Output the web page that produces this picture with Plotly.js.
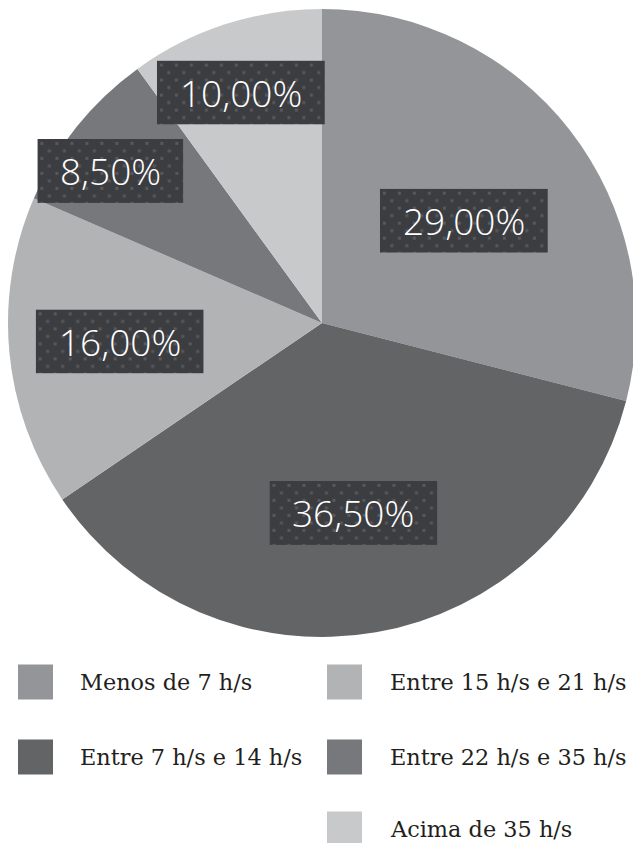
<!DOCTYPE html>
<html>
<head>
<meta charset="utf-8">
<script src="https://cdn.plot.ly/plotly-3.0.1.min.js"></script>
<style>
html,body{margin:0;padding:0;overflow:hidden;background:#fff;}
#chart{width:640px;height:843px;}
</style>
</head>
<body>
<div id="chart"></div>
<script>
// ---- data ----
var categories = ["Menos de 7 h/s", "Entre 7 h/s e 14 h/s", "Entre 15 h/s e 21 h/s", "Entre 22 h/s e 35 h/s", "Acima de 35 h/s"];
var values = [29.0, 36.5, 16.0, 8.5, 10.0];
var percentLabels = ["29,00%", "36,50%", "16,00%", "8,50%", "10,00%"];

// ---- style ----
var colors = ["#939598", "#636466", "#b1b3b5", "#77787b", "#c8c9cb"];
var W = 640, H = 843;
var pieLeft = 8, pieRight = 636, pieTop = 9, pieBottom = 637;
var cx = (pieLeft + pieRight) / 2, cy = (pieTop + pieBottom) / 2, R = (pieRight - pieLeft) / 2;
// label placement: radial fraction and angular nudge (deg)
var labelRadius = [0.557, 0.613, 0.647, 0.83, 0.778];
var labelNudge = [2, 0.5, 0.2, -3, -1.4];

var total = values.reduce(function(a,b){return a+b;}, 0);
var annotations = [], images = [], shapes = [];

function boxSvg(w, h) {
  var s = '<svg xmlns="http://www.w3.org/2000/svg" width="' + w + '" height="' + h + '" viewBox="0 0 ' + w + ' ' + h + '">' +
    '<defs><pattern id="p" x="3" y="3" width="15" height="15" patternUnits="userSpaceOnUse">' +
    '<rect width="15" height="15" fill="#3c3d41"/>' +
    '<rect x="0" y="0" width="3" height="3" fill="#57585c"/>' +
    '<rect x="7.5" y="7.5" width="3" height="3" fill="#57585c"/>' +
    '</pattern></defs><rect width="' + w + '" height="' + h + '" fill="url(#p)"/></svg>';
  return 'data:image/svg+xml;charset=utf-8,' + encodeURIComponent(s);
}

var cum = 0;
for (var i = 0; i < values.length; i++) {
  var mid = (cum + values[i] / 2) / total * 360 + labelNudge[i];
  cum += values[i];
  var rad = mid * Math.PI / 180;
  var px = cx + labelRadius[i] * R * Math.sin(rad);
  var py = cy - labelRadius[i] * R * Math.cos(rad);
  var bw = percentLabels[i].length * 22 + 36, bh = 64;
  images.push({
    source: boxSvg(bw, bh), xref: "paper", yref: "paper",
    x: (px - bw / 2) / W, y: 1 - (py - bh / 2) / H,
    sizex: bw / W, sizey: bh / H, sizing: "stretch",
    xanchor: "left", yanchor: "top", layer: "above"
  });
  annotations.push({
    text: percentLabels[i], xref: "paper", yref: "paper",
    x: px / W, y: 1 - py / H, xanchor: "center", yanchor: "middle",
    showarrow: false, font: {family: "Open Sans, sans-serif", size: 37, weight: 300, color: "#ffffff"}
  });
}

// ---- legend (custom, two columns) ----
var colSquareX = [18, 327], colTextX = [78, 388], rowY = [682, 757, 829], sq = 35;
for (var j = 0; j < categories.length; j++) {
  var col = j < 2 ? 0 : 1;
  var row = j < 2 ? j : j - 2;
  var yc = rowY[row];
  shapes.push({
    type: "rect", xref: "paper", yref: "paper",
    x0: colSquareX[col] / W, x1: (colSquareX[col] + sq) / W,
    y0: 1 - (yc + sq / 2) / H, y1: 1 - (yc - sq / 2) / H,
    fillcolor: colors[j], line: {width: 0}
  });
  annotations.push({
    text: categories[j], xref: "paper", yref: "paper",
    x: colTextX[col] / W, y: 1 - yc / H, xanchor: "left", yanchor: "middle",
    showarrow: false, font: {family: "DejaVu Serif, serif", size: 22.4, color: "#231f20"}
  });
}

var trace = {
  type: "pie", labels: categories, values: values, sort: false,
  direction: "clockwise", rotation: 0, textinfo: "none", hoverinfo: "none",
  marker: {colors: colors, line: {width: 0}},
  domain: {x: [pieLeft / W, pieRight / W], y: [1 - pieBottom / H, 1 - pieTop / H]},
  showlegend: false
};

Plotly.newPlot("chart", [trace], {
  width: W, height: H, margin: {l: 0, r: 0, t: 0, b: 0},
  paper_bgcolor: "#ffffff", showlegend: false,
  annotations: annotations, images: images, shapes: shapes
}, {staticPlot: true});
</script>
</body>
</html>
